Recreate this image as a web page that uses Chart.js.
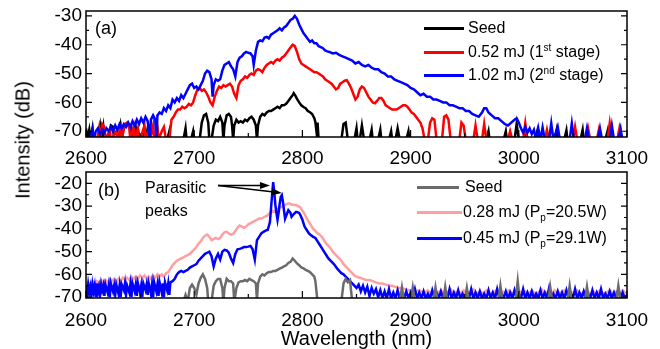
<!DOCTYPE html>
<html>
<head>
<meta charset="utf-8">
<script src="https://cdn.jsdelivr.net/npm/chart.js@4.4.0/dist/chart.umd.min.js"></script>
<style>
body { margin: 0; background: #fff; font-family: "Liberation Sans", Arial, sans-serif; }
#wrap { position: relative; width: 660px; height: 349px; overflow: hidden; }
canvas { position: absolute; left: 0; }
#topChart { top: 0; }
#bottomChart { top: 170px; }
.txt { position: absolute; font-size: 16px; line-height: 16px; color: #000; white-space: nowrap; }
.key { position: absolute; height: 3px; }
.sup { font-size: 10px; position: relative; top: -6px; }
.sub { font-size: 10px; position: relative; top: 4px; }
#ytitle { position: absolute; left: 23px; top: 140px; font-size: 20px; white-space: nowrap;
          transform: translate(-50%, -50%) rotate(-90deg); }
</style>
</head>
<body>
<div id="wrap">
  <canvas id="topChart" width="660" height="170"></canvas>
  <canvas id="bottomChart" width="660" height="179"></canvas>
  <div id="ytitle">Intensity (dB)</div>

  <div class="txt" style="left:95px;top:19px;font-size:18px;line-height:18px">(a)</div>
  <div class="key" style="left:424px;top:27px;width:40px;background:#000"></div>
  <div class="txt" style="left:468px;top:20px">Seed</div>
  <div class="key" style="left:424px;top:51px;width:40px;background:#ff0000"></div>
  <div class="txt" style="left:468px;top:44px">0.52 mJ (1<span class="sup">st</span> stage)</div>
  <div class="key" style="left:424px;top:74px;width:40px;background:#0000ff"></div>
  <div class="txt" style="left:468px;top:67px">1.02 mJ (2<span class="sup">nd</span> stage)</div>

  <div class="txt" style="left:98px;top:181px;font-size:18px;line-height:18px">(b)</div>
  <div class="txt" style="left:145px;top:180px">Parasitic</div>
  <div class="txt" style="left:145px;top:203px">peaks</div>
  <div class="key" style="left:417px;top:186px;width:42px;background:#6b6b6b"></div>
  <div class="txt" style="left:465px;top:179px">Seed</div>
  <div class="key" style="left:417px;top:211px;width:45px;background:#ff9f9f"></div>
  <div class="txt" style="left:463px;top:204px">0.28 mJ (P<span class="sub">p</span>=20.5W)</div>
  <div class="key" style="left:417px;top:237px;width:45px;background:#0000ff"></div>
  <div class="txt" style="left:463px;top:230px">0.45 mJ (P<span class="sub">p</span>=29.1W)</div>
</div>
<script>
// wavelength (nm), intensity (dB) pairs
var topSeed = [[2600,-69],[2601,-73],[2603,-69.5],[2604,-73],[2606,-69],[2607,-73],[2611,-73],[2613,-68.5],[2614,-73],[2616,-68.5],[2617,-73],[2621,-73],[2623,-68],[2625,-68.5],[2626,-73],[2630,-73],[2632,-68],[2634,-73],[2640,-73],[2642,-69.5],[2643,-73],[2646,-69],[2647,-73],[2652,-73],[2654,-69.5],[2655,-73],[2657,-69],[2658,-73],[2664,-73],[2666,-69.5],[2667,-73],[2675,-73],[2677,-70],[2678,-73],[2690,-73],[2692,-69],[2693,-73],[2697,-73],[2699,-70],[2700,-73],[2705,-73],[2707,-67],[2709,-64.5],[2711,-64],[2713,-67],[2714,-73],[2716,-73],[2718,-68],[2720,-66],[2722,-66.5],[2724,-65],[2726,-67],[2727,-73],[2728,-68],[2730,-64.5],[2732,-64],[2734,-65],[2735,-68],[2736,-73],[2737,-68],[2739,-66],[2741,-67],[2743,-66.5],[2745,-67],[2747,-66],[2749,-66.5],[2751,-65.5],[2753,-65],[2755,-66],[2757,-68],[2758,-73],[2759,-68],[2761,-65],[2763,-64],[2765,-64.5],[2767,-63.5],[2769,-63],[2771,-63],[2773,-62.5],[2775,-62],[2777,-61.5],[2779,-62],[2781,-61],[2783,-61],[2785,-60.5],[2787,-59.5],[2789,-58.5],[2791,-57.5],[2792,-56.8],[2794,-58],[2795,-58.8],[2797,-60],[2799,-61],[2801,-61.6],[2803,-62],[2805,-63],[2807,-63.4],[2809,-64],[2811,-65.5],[2812,-66.8],[2813,-70],[2814,-67],[2815,-73],[2836,-73],[2838,-67.5],[2840,-67],[2842,-73],[2848,-73],[2850,-69],[2851,-73],[2853,-73],[2855,-68],[2857,-73],[2862,-73],[2864,-69.5],[2865,-73],[2870,-73],[2872,-69.5],[2873,-73],[2880,-73],[2882,-70],[2883,-73],[2886,-73],[2888,-69],[2890,-73],[2896,-73],[2898,-70],[2899,-73],[2970,-73],[2972,-70],[2973,-73],[2986,-73],[2988,-70],[2989,-73],[2996,-73],[2998,-67.5],[3000,-73],[3005,-73],[3006,-69.5],[3007,-73],[3015,-73],[3017,-70],[3018,-73],[3033,-73],[3035,-69.5],[3036,-73],[3042,-73],[3044,-69.7],[3045,-73],[3057,-73],[3059,-69.5],[3060,-73],[3080,-73],[3082,-70],[3083,-73],[3092,-73],[3094,-69.5],[3095,-73]];

var topStage1 = [[2610,-73],[2612,-69],[2613,-73],[2615,-67.5],[2617,-68.5],[2618,-73],[2622,-69.5],[2623,-73],[2628,-70],[2629,-73],[2632,-69],[2633,-73],[2636,-67.5],[2638,-67],[2640,-69],[2641,-73],[2644,-68.5],[2645,-73],[2648,-69],[2650,-73],[2654,-68],[2655,-73],[2658,-69.5],[2659,-73],[2662,-68],[2663,-73],[2666,-69],[2667,-73],[2670,-70],[2672,-68.5],[2674,-73],[2677,-73],[2679,-66],[2681,-65],[2683,-63.5],[2685,-62.5],[2687,-62.5],[2689,-61.5],[2691,-62],[2693,-61.5],[2695,-60.5],[2697,-61],[2699,-60],[2701,-57.5],[2703,-55.5],[2705,-55],[2707,-56],[2709,-55.5],[2711,-56.5],[2713,-58],[2715,-60],[2717,-61],[2719,-58],[2721,-56],[2723,-54.5],[2725,-55],[2727,-54],[2729,-54.5],[2731,-54],[2733,-53.5],[2735,-54.5],[2737,-57],[2739,-58.5],[2741,-54],[2743,-52.5],[2745,-52],[2747,-51],[2749,-51.5],[2751,-50.5],[2753,-50],[2755,-50.5],[2757,-49],[2759,-48.5],[2761,-48.8],[2763,-49.5],[2765,-48],[2767,-47],[2769,-46.5],[2771,-46],[2773,-46.5],[2775,-45.5],[2777,-45],[2779,-45.5],[2781,-44.5],[2783,-44],[2785,-43],[2787,-42],[2789,-41],[2791,-40],[2793,-40.5],[2795,-42.5],[2797,-45],[2799,-46.5],[2801,-47],[2803,-47.5],[2805,-48],[2807,-48.5],[2809,-49],[2811,-49.5],[2813,-49.5],[2815,-50],[2817,-50.5],[2819,-51],[2821,-52],[2823,-52.5],[2825,-53],[2827,-53.5],[2829,-54.5],[2831,-55.5],[2833,-55],[2835,-53.5],[2837,-53],[2839,-52.5],[2841,-52.3],[2843,-53.5],[2845,-55],[2847,-57],[2849,-59],[2851,-58],[2853,-55.5],[2855,-54.5],[2857,-55],[2859,-56.5],[2861,-58],[2863,-59],[2865,-60],[2867,-60.3],[2869,-59.5],[2871,-58.5],[2873,-58.5],[2875,-59.5],[2877,-61],[2879,-61.5],[2881,-62],[2883,-62.5],[2885,-62.5],[2887,-62.5],[2889,-62],[2891,-61.5],[2893,-61],[2895,-61],[2897,-61.5],[2899,-62.5],[2901,-63.5],[2903,-64],[2905,-65],[2907,-66],[2909,-67],[2911,-69],[2913,-73],[2916,-73],[2918,-67],[2920,-65.5],[2922,-66],[2924,-73],[2929,-73],[2931,-65],[2933,-64.5],[2935,-66],[2937,-73],[2945,-73],[2947,-67],[2949,-68],[2951,-73],[2958,-73],[2960,-68],[2962,-73],[2966,-73],[2968,-67.5],[2970,-73],[2990,-73],[2992,-70],[2994,-73],[3004,-73],[3006,-67.3],[3008,-73],[3024,-73],[3026,-69.5],[3028,-73],[3050,-73],[3052,-68.5],[3054,-73],[3062,-73],[3064,-69],[3066,-73],[3072,-73],[3074,-69.5],[3076,-73],[3082,-73],[3084,-67.3],[3086,-73],[3091,-73],[3093,-69],[3095,-73]];

var topStage2 = [[2604,-73],[2606,-69.5],[2607,-73],[2609,-70],[2611,-69],[2613,-71],[2615,-69.5],[2617,-70.5],[2619,-69],[2621,-70],[2623,-68.5],[2625,-70],[2627,-68],[2629,-69.5],[2631,-67.5],[2633,-69],[2635,-67.5],[2637,-68.5],[2639,-67],[2641,-68.5],[2643,-66.5],[2645,-68],[2647,-66],[2649,-67.5],[2651,-65.5],[2653,-67],[2655,-65],[2657,-66.5],[2659,-73],[2660,-66],[2662,-64.5],[2664,-66],[2665,-73],[2666,-64.5],[2668,-63.5],[2670,-64],[2672,-62],[2674,-63],[2676,-61],[2678,-62],[2680,-59],[2682,-60],[2684,-58.5],[2686,-59.5],[2688,-57.5],[2690,-58.5],[2692,-57],[2694,-55.5],[2696,-54],[2698,-53.5],[2700,-55],[2702,-54.5],[2704,-55.5],[2706,-54],[2708,-52.5],[2710,-50],[2712,-49],[2714,-49.5],[2716,-52],[2717,-58],[2718,-54],[2720,-52],[2722,-52.5],[2724,-52],[2726,-49],[2728,-47],[2730,-46.5],[2732,-46],[2734,-47.5],[2736,-48.5],[2738,-51],[2740,-46],[2742,-44.5],[2744,-44],[2746,-43],[2748,-42.5],[2750,-42.8],[2752,-43],[2754,-44],[2755,-47],[2757,-42],[2759,-39],[2761,-38.5],[2763,-38.8],[2765,-37.5],[2767,-37.3],[2769,-37.8],[2771,-36.5],[2773,-36],[2775,-35.5],[2777,-35],[2779,-34.3],[2781,-35],[2783,-34],[2785,-33.5],[2787,-32.5],[2789,-31.4],[2791,-31],[2793,-30],[2795,-31],[2797,-33],[2799,-34.5],[2801,-36],[2803,-37],[2805,-38],[2807,-39],[2809,-38.5],[2811,-39.5],[2813,-39.5],[2815,-40.5],[2817,-40.8],[2819,-41.2],[2821,-42],[2823,-42.3],[2825,-42.5],[2828,-43],[2831,-42.8],[2834,-43.5],[2837,-44],[2840,-44.5],[2843,-45],[2846,-45.5],[2849,-46.5],[2852,-46],[2855,-47],[2858,-47.5],[2861,-47],[2864,-48],[2867,-48.5],[2870,-48.5],[2873,-49.5],[2876,-50],[2879,-51],[2882,-51],[2885,-52],[2888,-52.5],[2891,-53],[2894,-53.5],[2897,-54],[2900,-55],[2903,-55.5],[2906,-56.5],[2909,-57.5],[2912,-57],[2915,-58],[2918,-58],[2921,-59],[2924,-59],[2927,-59.5],[2930,-60],[2933,-60],[2936,-61],[2939,-61],[2942,-61.5],[2945,-62],[2948,-62],[2951,-63],[2954,-63],[2957,-64],[2960,-64.5],[2963,-65],[2966,-63.5],[2968,-62],[2970,-62],[2972,-63.5],[2975,-64.5],[2978,-65.5],[2981,-65.5],[2984,-66.5],[2987,-67.5],[2990,-68],[2993,-67],[2996,-66],[2998,-65.5],[3000,-67],[3002,-69],[3004,-70.5],[3006,-68.5],[3008,-70.5],[3010,-69],[3012,-71],[3014,-69.5],[3016,-73],[3018,-69],[3020,-73],[3022,-68.7],[3024,-73],[3028,-73],[3030,-67.3],[3032,-73],[3036,-68.5],[3038,-73],[3047,-73],[3049,-67.3],[3051,-73],[3061,-73],[3063,-69],[3065,-73],[3073,-73],[3075,-69],[3077,-73],[3084,-73],[3086,-68],[3088,-73],[3092,-73],[3094,-69.5],[3096,-73]];

var bottomSeed = [[2690,-72],[2692,-69],[2694,-72],[2696,-66],[2698,-64.5],[2700,-66],[2702,-69],[2704,-64],[2706,-61.5],[2708,-60],[2710,-62],[2712,-66],[2713,-72],[2716,-72],[2718,-65],[2720,-63],[2722,-62],[2724,-62],[2726,-66],[2727,-72],[2728,-66],[2730,-62],[2732,-63],[2734,-63],[2736,-64],[2737,-72],[2739,-66],[2741,-63.5],[2743,-63],[2745,-63],[2747,-62.5],[2749,-63],[2751,-62],[2753,-62.5],[2755,-63],[2757,-64],[2758,-71],[2759,-64],[2761,-61],[2763,-60],[2765,-60.5],[2767,-59.5],[2769,-59],[2771,-59],[2773,-58.5],[2775,-58.5],[2777,-58],[2779,-57.5],[2781,-57],[2783,-56.5],[2785,-56],[2787,-55],[2789,-54.5],[2791,-53],[2793,-54],[2795,-55.2],[2797,-56],[2799,-57],[2801,-57.4],[2803,-58],[2805,-58.5],[2807,-59],[2809,-60],[2811,-61],[2812,-63],[2813,-67.5],[2814,-72],[2836,-72],[2838,-64],[2840,-62],[2842,-63.5],[2844,-62.5],[2846,-72],[2890,-72],[2892,-65.8],[2894,-72],[2900,-72],[2902,-65.8],[2904,-72],[2921,-72],[2923,-65.8],[2925,-72],[2930,-72],[2932,-65.5],[2934,-72],[2950,-72],[2952,-66],[2954,-72],[2981,-72],[2983,-65],[2985,-72],[2997,-72],[2999,-63],[3001,-72],[3027,-72],[3029,-65.5],[3031,-72],[3045,-72],[3047,-65],[3049,-72],[3061,-72],[3063,-65.5],[3065,-72],[3090,-72],[3092,-65],[3094,-72]];

var bottomLow = [[2600,-64.5],[2602,-63.5],[2604,-64.5],[2606,-63],[2608,-64],[2610,-63],[2612,-64],[2614,-62.5],[2616,-63.5],[2618,-62.5],[2620,-63.5],[2622,-62],[2624,-63],[2626,-62],[2628,-63.5],[2630,-62],[2632,-63],[2634,-61.5],[2636,-62.5],[2638,-61.5],[2640,-62.5],[2642,-61],[2644,-62],[2646,-61],[2648,-62],[2650,-60.5],[2652,-61.5],[2654,-60.5],[2656,-62],[2658,-61],[2660,-62],[2662,-60.5],[2664,-61.5],[2666,-60],[2668,-61],[2670,-60],[2672,-61],[2674,-59.5],[2676,-59],[2678,-57.5],[2680,-56],[2682,-55],[2684,-54],[2686,-53.5],[2688,-53],[2690,-52.5],[2692,-52],[2694,-51.5],[2696,-51],[2698,-50],[2700,-49],[2702,-48],[2704,-46.5],[2706,-45.5],[2708,-44],[2710,-43],[2712,-42.5],[2714,-43.5],[2716,-45],[2718,-44.5],[2720,-44],[2722,-44.5],[2724,-44],[2726,-42.5],[2728,-41.5],[2730,-41.3],[2732,-42],[2734,-42.5],[2736,-42.2],[2738,-41],[2740,-39.5],[2742,-38.5],[2744,-39],[2746,-39.5],[2748,-39],[2750,-38],[2752,-37.5],[2754,-37],[2756,-36.5],[2758,-36],[2760,-35.5],[2762,-35.5],[2764,-35],[2766,-34.5],[2768,-34],[2770,-33],[2772,-32],[2774,-32.5],[2776,-31.5],[2778,-31],[2780,-30.5],[2782,-30],[2784,-29.5],[2786,-29],[2788,-28.8],[2790,-29.3],[2792,-29.5],[2794,-29.5],[2796,-30],[2798,-30.5],[2800,-32],[2802,-33.5],[2804,-35.5],[2806,-37],[2808,-38.5],[2810,-40],[2812,-41],[2814,-42],[2816,-42.6],[2818,-43.5],[2820,-45],[2822,-46.5],[2824,-47.5],[2826,-48.5],[2828,-50],[2830,-51],[2832,-52],[2834,-53],[2836,-54],[2838,-55.5],[2840,-56.5],[2842,-57.5],[2844,-58.5],[2846,-59.5],[2848,-60.5],[2850,-61],[2853,-61.5],[2856,-62],[2859,-62.5],[2862,-62.5],[2865,-63],[2868,-63.5],[2871,-64],[2874,-64],[2877,-64.5],[2880,-65],[2883,-65],[2886,-65.5],[2889,-66],[2892,-66],[2895,-66.5],[2898,-67],[2901,-67],[2904,-67.5],[2907,-67],[2910,-67.5],[2913,-68],[2916,-67],[2919,-68.5],[2922,-67.5],[2925,-68.5],[2928,-67],[2931,-68.5],[2934,-68],[2937,-66.5],[2940,-68.5],[2943,-67.5],[2946,-68.5],[2949,-67],[2952,-68.5],[2955,-68],[2958,-66.5],[2961,-68.5],[2964,-67.5],[2967,-68.5],[2970,-67],[2973,-68.5],[2976,-68],[2979,-67],[2982,-68.5],[2985,-67.5],[2988,-68.5],[2991,-67],[2994,-68.5],[2997,-68],[3000,-67],[3003,-68.5],[3006,-67.5],[3009,-68.5],[3012,-67],[3015,-68.5],[3018,-68],[3021,-66.5],[3024,-68.5],[3027,-67.5],[3030,-68.5],[3033,-67],[3036,-68.5],[3039,-68],[3042,-67],[3045,-68.5],[3048,-67.5],[3051,-68.5],[3054,-67],[3057,-68.5],[3060,-68],[3063,-67],[3066,-68.5],[3069,-67.5],[3072,-68.5],[3075,-67],[3078,-68.5],[3081,-68],[3084,-67],[3087,-68.5],[3090,-67.5],[3093,-68.5],[3096,-67],[3099,-68.5]];

var bottomHigh = [[2600,-65],[2601,-69],[2602,-64.5],[2603,-68],[2604,-65.5],[2605,-69.5],[2606,-64.5],[2607,-67.5],[2608,-65],[2609,-70],[2610,-64],[2611,-68],[2612,-65.5],[2613,-69],[2614,-64.5],[2615,-67],[2616,-65],[2617,-69.5],[2618,-64.5],[2620,-68],[2621,-65],[2622,-70],[2623,-64],[2625,-67.5],[2626,-65],[2627,-69],[2628,-64.5],[2630,-68.5],[2631,-65],[2632,-70],[2633,-64.5],[2635,-67],[2636,-64],[2637,-69],[2638,-65],[2640,-68],[2641,-64.5],[2642,-70],[2643,-64],[2645,-67.5],[2646,-64.5],[2647,-69.5],[2648,-64],[2650,-68],[2651,-65],[2652,-70],[2653,-64],[2655,-67],[2656,-64.5],[2657,-69],[2658,-64],[2660,-68.5],[2661,-64.5],[2662,-70],[2663,-63.5],[2665,-67.5],[2666,-64.5],[2667,-69.5],[2668,-63.5],[2670,-68],[2671,-64],[2672,-70],[2673,-63.5],[2675,-67],[2676,-64],[2677,-69],[2678,-63.5],[2680,-63],[2682,-62],[2684,-60],[2686,-59],[2688,-58.5],[2690,-59],[2692,-58.5],[2694,-58],[2696,-57],[2698,-56.5],[2700,-56],[2702,-55.5],[2704,-54],[2706,-53],[2708,-52],[2710,-51],[2712,-50.5],[2714,-50],[2716,-52],[2718,-56.5],[2720,-53],[2722,-51],[2724,-53.5],[2726,-50],[2728,-49.2],[2730,-49.5],[2732,-50.5],[2734,-53],[2736,-55],[2738,-51],[2740,-49],[2742,-48.8],[2744,-48.5],[2746,-48],[2748,-48],[2750,-47.8],[2752,-47.5],[2754,-49],[2756,-53.5],[2758,-45],[2760,-43.5],[2762,-42],[2764,-41.3],[2766,-40.8],[2768,-40.4],[2770,-37],[2771,-31],[2772,-25],[2773,-19.4],[2774,-24],[2775,-29.5],[2776,-33],[2777,-36],[2778,-33],[2779,-29],[2780,-26],[2781,-25.2],[2782,-28],[2783,-32],[2784,-35.5],[2786,-33],[2787,-31.8],[2789,-33],[2790,-34.7],[2792,-33.5],[2794,-32.6],[2795,-32.6],[2797,-33],[2798,-33.8],[2800,-36],[2802,-39],[2804,-40.5],[2806,-42],[2808,-42.8],[2810,-43.5],[2812,-44],[2814,-45.5],[2816,-47],[2818,-48.5],[2820,-50],[2822,-51.5],[2824,-53],[2826,-54],[2828,-55],[2830,-56],[2832,-57.4],[2834,-58.5],[2836,-59.5],[2838,-60],[2840,-61],[2842,-62],[2844,-63],[2846,-64],[2848,-65],[2850,-66],[2852,-64.5],[2854,-67.5],[2856,-65],[2858,-68],[2860,-65.5],[2862,-69.5],[2864,-66],[2866,-68.5],[2868,-66.5],[2870,-70],[2872,-67],[2874,-70.5],[2876,-67.5],[2878,-70.5],[2880,-66.5],[2882,-70.5],[2884,-68],[2886,-70.5],[2888,-67],[2890,-70.5],[2892,-68.5],[2894,-70.5],[2896,-67.5],[2898,-70.5],[2900,-68],[2902,-70.5],[2904,-66.5],[2906,-70.5],[2908,-68],[2910,-70.5],[2912,-67.5],[2914,-70.5],[2916,-68.5],[2918,-70.5],[2920,-67],[2922,-70.5],[2924,-68],[2926,-70.5],[2928,-67.5],[2930,-70.5],[2932,-68.5],[2934,-70.5],[2936,-66.5],[2938,-70.5],[2940,-68],[2942,-70.5],[2944,-67],[2946,-70.5],[2948,-68.5],[2950,-70.5],[2952,-67.5],[2954,-70.5],[2956,-66.5],[2958,-70.5],[2960,-68],[2962,-70.5],[2964,-67.5],[2966,-70.5],[2968,-68.5],[2970,-70.5],[2972,-67],[2974,-70.5],[2976,-68],[2978,-70.5],[2980,-66.5],[2982,-70.5],[2984,-68.5],[2986,-70.5],[2988,-67.5],[2990,-70.5],[2992,-68],[2994,-70.5],[2996,-67],[2998,-70.5],[3000,-68.5],[3002,-70.5],[3004,-66.5],[3006,-70.5],[3008,-68],[3010,-70.5],[3012,-67.5],[3014,-70.5],[3016,-68.5],[3018,-70.5],[3020,-67],[3022,-70.5],[3024,-68],[3026,-70.5],[3028,-66],[3030,-70.5],[3032,-68.5],[3034,-70.5],[3036,-67.5],[3038,-70.5],[3040,-68],[3042,-70.5],[3044,-67],[3046,-70.5],[3048,-68.5],[3050,-70.5],[3052,-66.5],[3054,-70.5],[3056,-68],[3058,-70.5],[3060,-67.5],[3062,-70.5],[3064,-68.5],[3066,-70.5],[3068,-67],[3070,-70.5],[3072,-68],[3074,-70.5],[3076,-66.5],[3078,-70.5],[3080,-68.5],[3082,-70.5],[3084,-67.5],[3086,-70.5],[3088,-68],[3090,-70.5],[3092,-66.5],[3094,-70.5],[3096,-68],[3098,-70.5],[3100,-69]];

var xTicks = [2600, 2700, 2800, 2900, 3000, 3100];
var xMinorTicks = [2650, 2750, 2850, 2950, 3050];
var yTicksTop = [-70, -60, -50, -40, -30];
var yMinorTop = [-65, -55, -45, -35];
var yTicksBottom = [-70, -60, -50, -40, -30, -20];
var yMinorBottom = [-65, -55, -45, -35, -25];

// arrows from the "Parasitic peaks" note: [fromX, fromY, toX, toY]
var peakArrows = [[2722, -20.9, 2770, -20.9], [2722, -20.9, 2781, -24.2]];

var tickFont = { family: 'Liberation Sans', size: 19 };

function toXY(pairs) {
  return pairs.map(function (p) { return { x: p[0], y: p[1] }; });
}

function line(label, pairs, color) {
  return { label: label, data: toXY(pairs), borderColor: color, borderWidth: 2.5,
           pointRadius: 0, tension: 0, fill: false };
}

function plainLabel(v) { return String(v); }

// box frame plus inward tick marks, like the original plot
var frameTicks = {
  id: 'frameTicks',
  afterDraw: function (chart, args, opts) {
    var ctx = chart.ctx, a = chart.chartArea;
    var xs = chart.scales.x, ys = chart.scales.y;
    ctx.save();
    ctx.strokeStyle = '#000';
    ctx.lineWidth = 1.2;
    ctx.beginPath();
    xTicks.forEach(function (v) {
      var px = xs.getPixelForValue(v);
      ctx.moveTo(px, a.bottom); ctx.lineTo(px, a.bottom - 7);
    });
    xMinorTicks.forEach(function (v) {
      var px = xs.getPixelForValue(v);
      ctx.moveTo(px, a.bottom); ctx.lineTo(px, a.bottom - 4);
    });
    opts.major.forEach(function (v) {
      var py = ys.getPixelForValue(v);
      ctx.moveTo(a.left, py); ctx.lineTo(a.left + 6, py);
      ctx.moveTo(a.right, py); ctx.lineTo(a.right - 6, py);
    });
    opts.minor.forEach(function (v) {
      var py = ys.getPixelForValue(v);
      ctx.moveTo(a.left, py); ctx.lineTo(a.left + 3, py);
      ctx.moveTo(a.right, py); ctx.lineTo(a.right - 3, py);
    });
    ctx.stroke();
    ctx.lineWidth = 1.5;
    ctx.strokeRect(a.left, a.top, a.right - a.left, a.bottom - a.top);
    ctx.restore();
  }
};

var arrowPlugin = {
  id: 'peakArrows',
  afterDraw: function (chart) {
    var ctx = chart.ctx, xs = chart.scales.x, ys = chart.scales.y;
    ctx.save();
    ctx.strokeStyle = '#000';
    ctx.fillStyle = '#000';
    ctx.lineWidth = 1.5;
    peakArrows.forEach(function (a) {
      var x0 = xs.getPixelForValue(a[0]), y0 = ys.getPixelForValue(a[1]);
      var x1 = xs.getPixelForValue(a[2]), y1 = ys.getPixelForValue(a[3]);
      var ang = Math.atan2(y1 - y0, x1 - x0);
      ctx.beginPath();
      ctx.moveTo(x0, y0);
      ctx.lineTo(x1 - 8 * Math.cos(ang), y1 - 8 * Math.sin(ang));
      ctx.stroke();
      ctx.beginPath();
      ctx.moveTo(x1, y1);
      ctx.lineTo(x1 - 10 * Math.cos(ang) + 3.5 * Math.sin(ang), y1 - 10 * Math.sin(ang) - 3.5 * Math.cos(ang));
      ctx.lineTo(x1 - 10 * Math.cos(ang) - 3.5 * Math.sin(ang), y1 - 10 * Math.sin(ang) + 3.5 * Math.cos(ang));
      ctx.closePath();
      ctx.fill();
    });
    ctx.restore();
  }
};

function makeScales(yMin, yMax, yTicks, xHeight, xPad, withTitle) {
  return {
    x: {
      type: 'linear', min: 2600, max: 3100,
      grid: { display: false, drawTicks: false },
      border: { display: false },
      afterBuildTicks: function (s) { s.ticks = xTicks.map(function (v) { return { value: v }; }); },
      afterFit: function (s) { s.height = xHeight; s.paddingLeft = 0; s.paddingRight = 0; },
      ticks: { color: '#000', font: tickFont, padding: xPad, autoSkip: false, maxRotation: 0,
               callback: plainLabel },
      title: { display: withTitle, text: 'Wavelength (nm)', color: '#000',
               font: { family: 'Liberation Sans', size: 20, lineHeight: 1 },
               padding: { top: 0, bottom: 0 } }
    },
    y: {
      min: yMin, max: yMax,
      grid: { display: false, drawTicks: false },
      border: { display: false },
      afterBuildTicks: function (s) { s.ticks = yTicks.map(function (v) { return { value: v }; }); },
      afterFit: function (s) { s.width = 60; s.paddingTop = 0; s.paddingBottom = 0; },
      ticks: { color: '#000', font: tickFont, padding: 4, autoSkip: false, callback: plainLabel }
    }
  };
}

var topChart = new Chart(document.getElementById('topChart'), {
  type: 'line',
  data: {
    datasets: [
      line('1.02 mJ (2nd stage)', topStage2, '#0000ff'),
      line('0.52 mJ (1st stage)', topStage1, '#ff0000'),
      line('Seed', topSeed, '#000000')
    ]
  },
  options: {
    responsive: false,
    animation: false,
    layout: { padding: { left: 26, right: 33, top: 11, bottom: 0 } },
    plugins: { legend: { display: false }, tooltip: { enabled: false },
               frameTicks: { major: yTicksTop, minor: yMinorTop } },
    scales: makeScales(-72, -28.3, yTicksTop, 33, 10, false)
  },
  plugins: [frameTicks]
});

var bottomChart = new Chart(document.getElementById('bottomChart'), {
  type: 'line',
  data: {
    datasets: [
      line('Seed', bottomSeed, '#6b6b6b'),
      line('0.45 mJ (Pp=29.1W)', bottomHigh, '#0000ff'),
      line('0.28 mJ (Pp=20.5W)', bottomLow, '#ff9f9f')
    ]
  },
  options: {
    responsive: false,
    animation: false,
    layout: { padding: { left: 26, right: 33, top: 2, bottom: 0 } },
    plugins: { legend: { display: false }, tooltip: { enabled: false },
               frameTicks: { major: yTicksBottom, minor: yMinorBottom } },
    scales: makeScales(-70.4, -15, yTicksBottom, 51, 11, true)
  },
  plugins: [frameTicks, arrowPlugin]
});
</script>
</body>
</html>
